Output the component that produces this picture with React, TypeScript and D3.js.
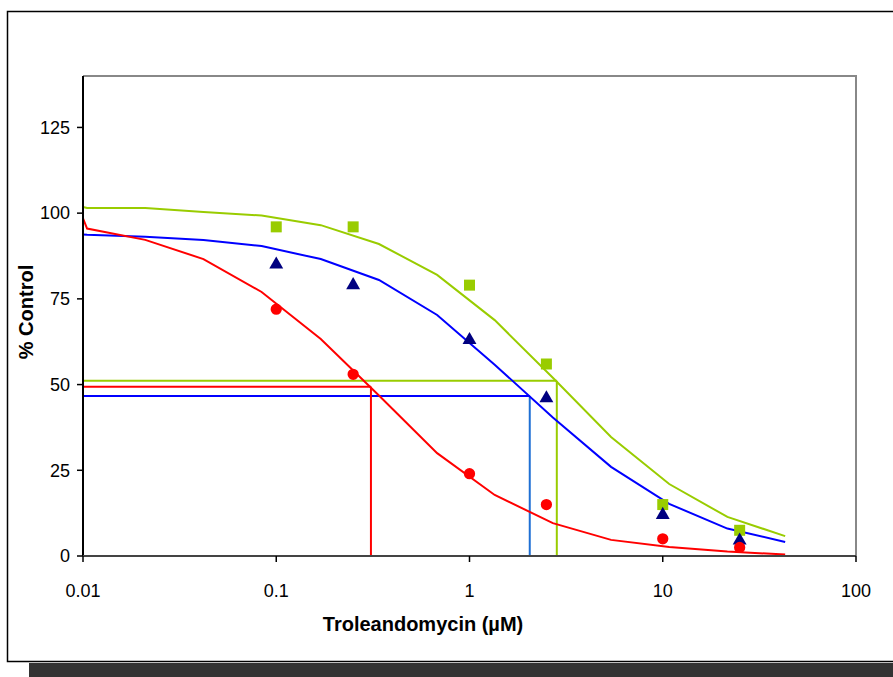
import React from 'react';
import * as d3 from 'd3';

// measured points (µM vs % control)
const concentrations = [0.1, 0.25, 1, 2.5, 10, 25];
const squareValues = [96, 96, 79, 56, 15, 7.5];
const triangleValues = [85, 79, 63, 46, 12, 4.5];
const circleValues = [72, 53, 24, 15, 5, 2.5];

// fitted curves at each vertex
const fitConcentrations = [0.01, 0.0105, 0.021, 0.042, 0.084, 0.17, 0.34, 0.68, 1.35, 2.7, 5.4, 10.8, 21.6, 43];
const squareFit = [101.8, 101.5, 101.5, 100.3, 99.3, 96.5, 91, 82, 68.8, 52, 34.7, 21, 11.4, 5.8];
const triangleFit = [93.8, 93.7, 93.1, 92.2, 90.4, 86.6, 80.5, 70.3, 55.8, 40.4, 26, 15.2, 8, 4.1];
const circleFit = [98.5, 95.5, 92.2, 86.6, 77, 63.3, 46.8, 30, 17.8, 9.6, 4.7, 2.6, 1.3, 0.45];

// IC50 drop lines: green, blue, red
const ic50Concentrations = [2.83, 2.05, 0.309];
const ic50Levels = [51.1, 46.7, 49.4];

const xTicks = [0.01, 0.1, 1, 10, 100];
const xTickLabels = ['0.01', '0.1', '1', '10', '100'];
const yTicks = [0, 25, 50, 75, 100, 125];

const W = 893;
const H = 677;
const plot = { left: 83, right: 856, top: 76, bottom: 556 };
const font = '"Liberation Sans", Arial, sans-serif';

const GREEN = '#99cc00';
const BLUE = '#0000ff';
const NAVY = '#000080';
const RED = '#ff0000';

const App = () => {
  const x = d3.scaleLog().domain([0.01, 100]).range([plot.left, plot.right]);
  const y = d3.scaleLinear().domain([0, 140]).range([plot.bottom, plot.top]);

  const line = d3.line<number>()
    .x((_, i) => x(fitConcentrations[i]))
    .y(d => y(d));

  const square = d3.symbol(d3.symbolSquare, 121)();
  const triangle = d3.symbol(d3.symbolTriangle, 84)();
  const circle = d3.symbol(d3.symbolCircle, 100)();

  const curves = [
    { values: squareFit, color: GREEN },
    { values: triangleFit, color: BLUE },
    { values: circleFit, color: RED },
  ];
  const dropColors = [
    { h: GREEN, v: GREEN },
    { h: BLUE, v: '#1e6fd4' },
    { h: RED, v: RED },
  ];

  return (
    <div style={{ position: 'fixed', left: 0, top: 0, width: W, height: H, background: '#fff' }}>
      <svg width={W} height={H} style={{ display: 'block' }}>
        {/* chart frame + shadow */}
        <rect x={29} y={663} width={W} height={H - 663} fill="#333" />
        <rect x={7.5} y={11.5} width={W} height={650} fill="#fff" stroke="#000" strokeWidth={1.5} />

        {/* plot area border */}
        <path d={`M${plot.left},${plot.top}H${plot.right}V${plot.bottom}`} fill="none" stroke="#888" strokeWidth={2} />

        {/* IC50 lines */}
        {ic50Concentrations.map((c, i) => (
          <g key={'ic' + i}>
            <line x1={plot.left} x2={x(c)} y1={y(ic50Levels[i])} y2={y(ic50Levels[i])} stroke={dropColors[i].h} strokeWidth={2} />
            <line x1={x(c)} x2={x(c)} y1={y(ic50Levels[i])} y2={plot.bottom} stroke={dropColors[i].v} strokeWidth={2} />
          </g>
        ))}

        {/* fitted curves */}
        {curves.map((s, i) => (
          <path key={'c' + i} d={line(s.values) || ''} fill="none" stroke={s.color} strokeWidth={2} />
        ))}

        {/* markers */}
        {concentrations.map((c, i) => (
          <path key={'s' + i} d={square || ''} transform={`translate(${x(c)},${y(squareValues[i])})`} fill={GREEN} />
        ))}
        {concentrations.map((c, i) => (
          <path key={'t' + i} d={triangle || ''} transform={`translate(${x(c)},${y(triangleValues[i])})`} fill={NAVY} />
        ))}
        {concentrations.map((c, i) => (
          <path key={'o' + i} d={circle || ''} transform={`translate(${x(c)},${y(circleValues[i])})`} fill={RED} />
        ))}

        {/* axes */}
        <line x1={plot.left} x2={plot.left} y1={plot.top} y2={plot.bottom} stroke="#000" strokeWidth={2} />
        <line x1={plot.left} x2={plot.right} y1={plot.bottom} y2={plot.bottom} stroke="#444" strokeWidth={2} />
        {yTicks.map(t => (
          <g key={'yt' + t}>
            <line x1={plot.left - 6} x2={plot.left} y1={y(t)} y2={y(t)} stroke="#000" strokeWidth={1.5} />
            <text x={70} y={y(t)} dy="0.35em" textAnchor="end" fontFamily={font} fontSize={18}>{t}</text>
          </g>
        ))}
        {xTicks.map((t, i) => (
          <g key={'xt' + t}>
            <line x1={x(t)} x2={x(t)} y1={plot.bottom} y2={plot.bottom + 6} stroke="#000" strokeWidth={1.5} />
            <text x={x(t)} y={597} textAnchor="middle" fontFamily={font} fontSize={18}>{xTickLabels[i]}</text>
          </g>
        ))}

        {/* axis titles */}
        <text x={423} y={631} textAnchor="middle" fontFamily={font} fontSize={20} fontWeight="bold">Troleandomycin (µM)</text>
        <text transform="translate(33,312) rotate(-90)" textAnchor="middle" fontFamily={font} fontSize={20} fontWeight="bold">% Control</text>
      </svg>
    </div>
  );
};

export default App;
